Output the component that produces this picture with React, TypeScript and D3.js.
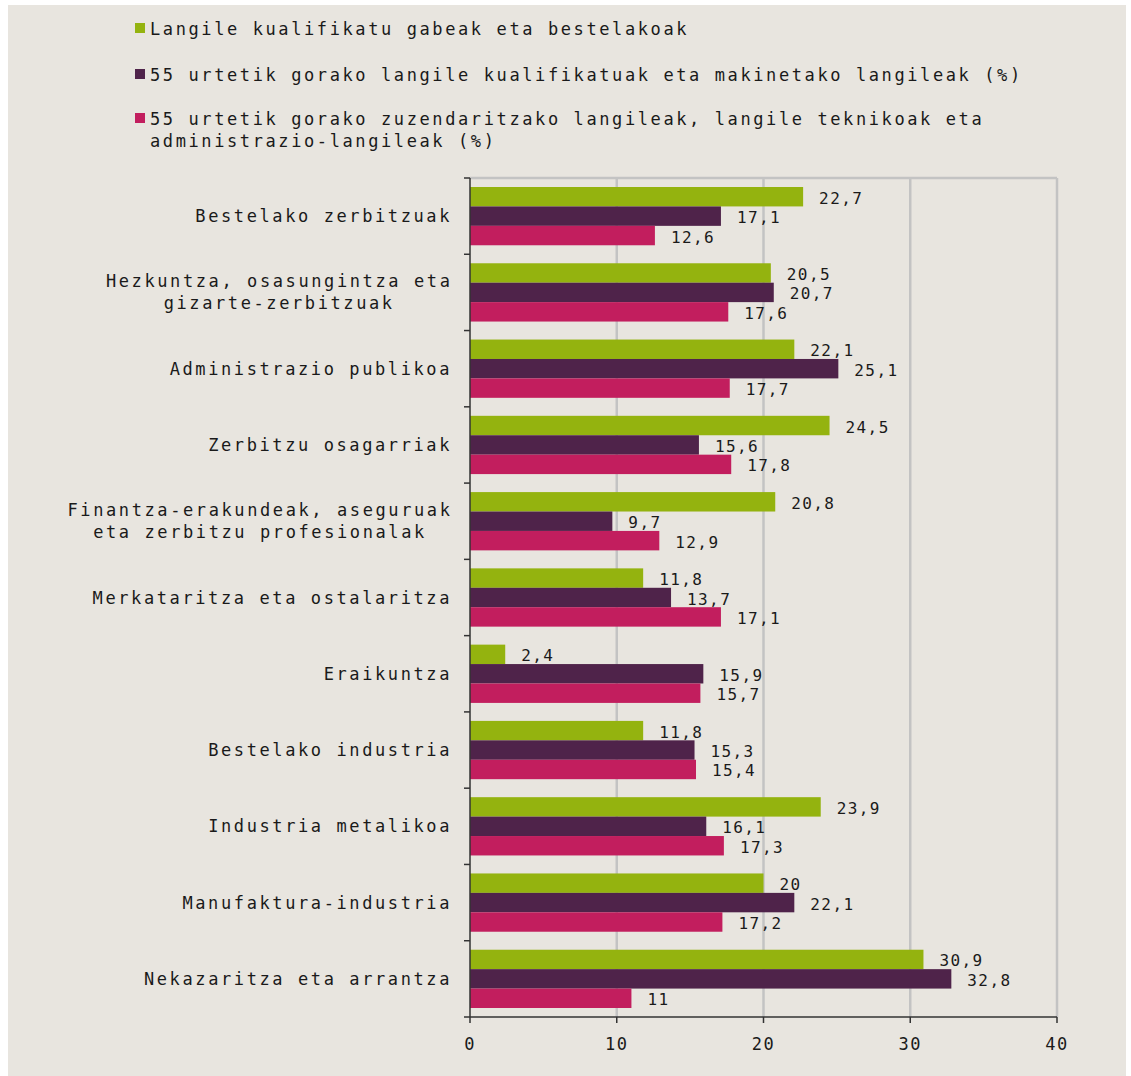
import React from "react";
import * as d3 from "d3";

const categories: string[][] = [
  ["Bestelako zerbitzuak"],
  ["Hezkuntza, osasungintza eta", "gizarte-zerbitzuak"],
  ["Administrazio publikoa"],
  ["Zerbitzu osagarriak"],
  ["Finantza-erakundeak, aseguruak", "eta zerbitzu profesionalak"],
  ["Merkataritza eta ostalaritza"],
  ["Eraikuntza"],
  ["Bestelako industria"],
  ["Industria metalikoa"],
  ["Manufaktura-industria"],
  ["Nekazaritza eta arrantza"],
];

const seriesNames: string[][] = [
  ["Langile kualifikatu gabeak eta bestelakoak"],
  ["55 urtetik gorako langile kualifikatuak eta makinetako langileak (%)"],
  ["55 urtetik gorako zuzendaritzako langileak, langile teknikoak eta", "administrazio-langileak (%)"],
];

const unskilled = [22.7, 20.5, 22.1, 24.5, 20.8, 11.8, 2.4, 11.8, 23.9, 20, 30.9];
const skilled55 = [17.1, 20.7, 25.1, 15.6, 9.7, 13.7, 15.9, 15.3, 16.1, 22.1, 32.8];
const managers55 = [12.6, 17.6, 17.7, 17.8, 12.9, 17.1, 15.7, 15.4, 17.3, 17.2, 11];

const xTicks = [0, 10, 20, 30, 40];

const colors = ["#94b30f", "#4f234a", "#c21e5e"];
const FONT = "'DejaVu Sans Mono', monospace";
const TEXT = "#1a1a1a";

export default function App() {
  const W = 1131, H = 1076;
  const left = 470, right = 1057, top = 178, bottom = 1017;
  const series = [unskilled, skilled55, managers55];
  const keys = categories.map((c) => c.join(" "));

  const x = d3.scaleLinear().domain([0, 40]).range([left, right]);
  const y = d3.scaleBand<string>().domain(keys).range([top, bottom]).padding(0);
  const bw = y.bandwidth();
  const inner = d3
    .scaleBand<number>()
    .domain([0, 1, 2])
    .range([bw * 0.118, bw * 0.882])
    .padding(0);

  const fmt = (v: number) => String(v).replace(".", ",");

  return (
    <svg
      width={W}
      height={H}
      style={{ position: "absolute", left: 0, top: 0 }}
      xmlns="http://www.w3.org/2000/svg"
    >
      <rect x={8} y={5} width={1118} height={1071} fill="#e8e5df" />

      {/* legend */}
      {seriesNames.map((lines, i) => {
        const ly = [35, 81, 125][i];
        return (
          <g key={i}>
            <rect x={135} y={ly - 12} width={10} height={10} fill={colors[i]} />
            {lines.map((t, j) => (
              <text
                key={j}
                x={150}
                y={ly + j * 22}
                fontFamily={FONT}
                fontSize={17}
                letterSpacing={2.6}
                fill={TEXT}
              >
                {t}
              </text>
            ))}
          </g>
        );
      })}

      {/* gridlines */}
      {xTicks.slice(1).map((t) => (
        <line key={t} x1={x(t)} x2={x(t)} y1={top} y2={bottom} stroke="#c3c3c3" strokeWidth={2.5} />
      ))}
      <line x1={left} x2={right} y1={top} y2={top} stroke="#c3c3c3" strokeWidth={2.5} />

      {/* bars */}
      {keys.map((k, ci) => (
        <g key={k}>
          {series.map((s, si) => (
            <rect
              key={si}
              x={x(0)}
              y={(y(k) as number) + (inner(si) as number)}
              width={x(s[ci]) - x(0)}
              height={inner.bandwidth()}
              fill={colors[si]}
            />
          ))}
          {series.map((s, si) => (
            <text
              key={"l" + si}
              x={x(s[ci]) + 16}
              y={(y(k) as number) + (inner(si) as number) + inner.bandwidth() / 2 + 7}
              fontFamily={FONT}
              fontSize={16}
              letterSpacing={1.4}
              fill={TEXT}
            >
              {fmt(s[ci])}
            </text>
          ))}
        </g>
      ))}

      {/* category labels */}
      {categories.map((lines, ci) => {
        const cy = (y(keys[ci]) as number) + bw / 2;
        const n = lines.length;
        const cx = n > 1 ? 452 - (lines[0].length * 12.8) / 2 : 452;
        return lines.map((t, j) => (
          <text
            key={ci + "-" + j}
            x={cx}
            y={cy + 6 + (j - (n - 1) / 2) * 22}
            textAnchor={n > 1 ? "middle" : "end"}
            fontFamily={FONT}
            fontSize={17}
            letterSpacing={2.6}
            fill={TEXT}
          >
            {t}
          </text>
        ));
      })}

      {/* axes */}
      <line x1={left} x2={left} y1={top} y2={bottom} stroke="#333" strokeWidth={1.5} />
      <line x1={left} x2={right} y1={bottom} y2={bottom} stroke="#333" strokeWidth={1.5} />
      {d3.range(keys.length + 1).map((i) => {
        const ty = top + i * bw;
        return <line key={i} x1={left - 6} x2={left} y1={ty} y2={ty} stroke="#333" strokeWidth={1.5} />;
      })}
      {xTicks.map((t) => (
        <g key={t}>
          <line x1={x(t)} x2={x(t)} y1={bottom} y2={bottom + 6} stroke="#333" strokeWidth={1.5} />
          <text
            x={x(t)}
            y={bottom + 33}
            textAnchor="middle"
            fontFamily={FONT}
            fontSize={17}
            letterSpacing={1.5}
            fill={TEXT}
          >
            {t}
          </text>
        </g>
      ))}
    </svg>
  );
}
